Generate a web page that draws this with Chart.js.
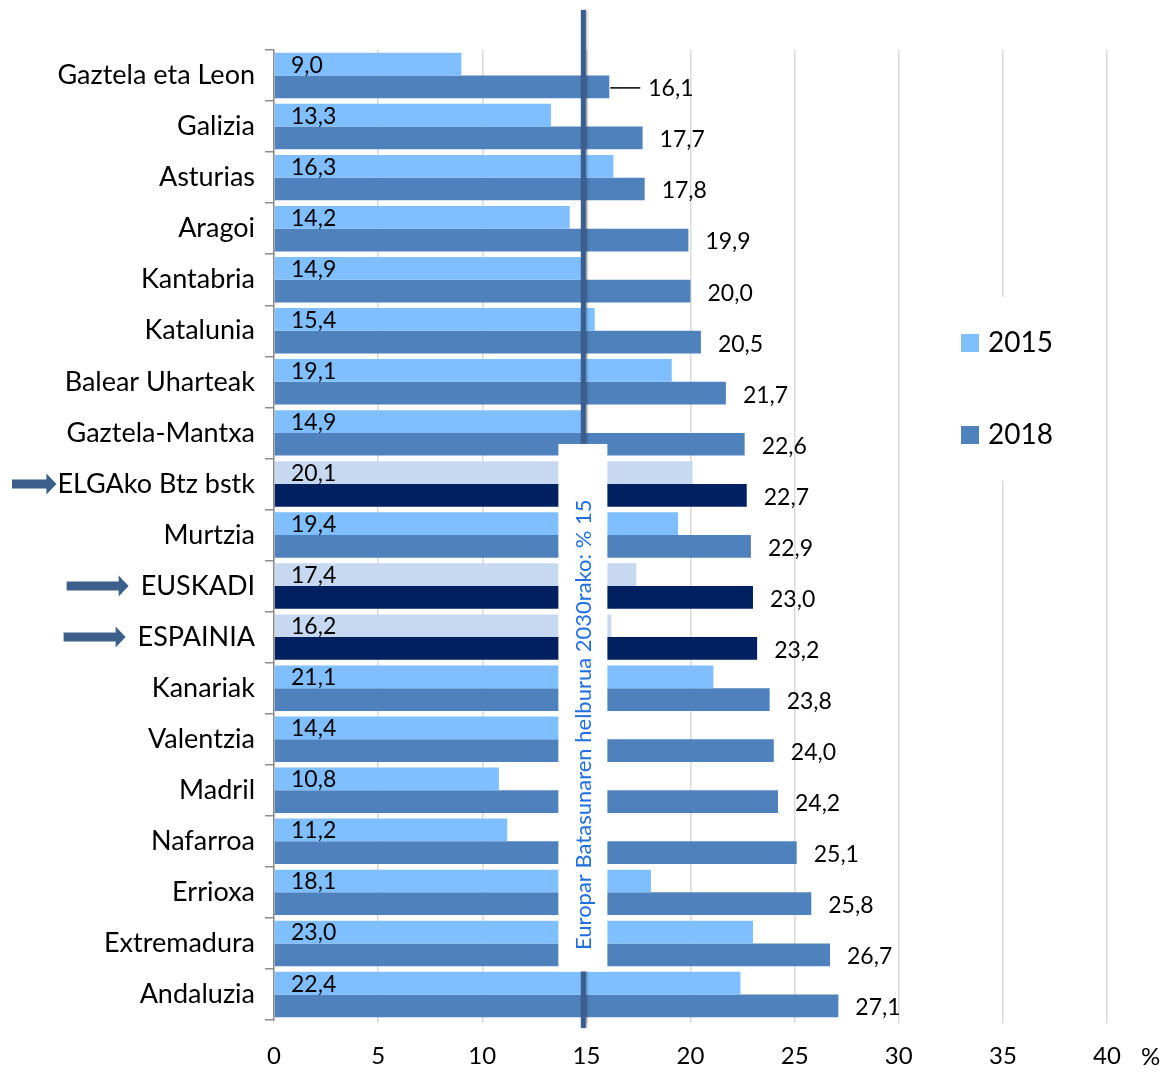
<!DOCTYPE html>
<html>
<head>
<meta charset="utf-8">
<script src="https://cdn.jsdelivr.net/npm/chart.js@4/dist/chart.umd.min.js"></script>
<style>
  html, body { margin: 0; padding: 0; background: #fff; }
  #wrap { width: 1167px; height: 1072px; }
</style>
</head>
<body>
<div id="wrap"><canvas id="chart" width="1167" height="1072"></canvas></div>
<script>
const regions = [
  "Gaztela eta Leon", "Galizia", "Asturias", "Aragoi", "Kantabria", "Katalunia",
  "Balear Uharteak", "Gaztela-Mantxa", "ELGAko Btz bstk", "Murtzia", "EUSKADI",
  "ESPAINIA", "Kanariak", "Valentzia", "Madril", "Nafarroa", "Errioxa",
  "Extremadura", "Andaluzia"
];
const values2015 = [9.0, 13.3, 16.3, 14.2, 14.9, 15.4, 19.1, 14.9, 20.1, 19.4, 17.4, 16.2, 21.1, 14.4, 10.8, 11.2, 18.1, 23.0, 22.4];
const values2018 = [16.1, 17.7, 17.8, 19.9, 20.0, 20.5, 21.7, 22.6, 22.7, 22.9, 23.0, 23.2, 23.8, 24.0, 24.2, 25.1, 25.8, 26.7, 27.1];
const seriesLabels = ["2015", "2018"];
const highlighted = ["ELGAko Btz bstk", "EUSKADI", "ESPAINIA"];
const xMin = 0;
const xMax = 40;
const xStep = 5;
const targetValue = 15;
const targetLabel = "Europar Batasunaren helburua 2030rako: % 15";

const FONT = "Lato, 'Open Sans', sans-serif";
const color2015 = "#7fbfff";
const color2018 = "#4f81bd";
const color2015Hi = "#c6d9f1";
const color2018Hi = "#002060";
const arrowColor = "#3c5f8c";

const isHi = (name) => highlighted.includes(name);

// value labels: 2015 at the bar start, 2018 after the bar end
const valueLabels = {
  id: "valueLabels",
  afterDatasetsDraw(chart) {
    const ctx = chart.ctx;
    const area = chart.chartArea;
    ctx.save();
    ctx.font = "23px " + FONT;
    ctx.fillStyle = "#000";
    ctx.textBaseline = "middle";
    ctx.textAlign = "left";
    chart.data.datasets.forEach((ds, di) => {
      const meta = chart.getDatasetMeta(di);
      meta.data.forEach((bar, i) => {
        const txt = ds.data[i].toFixed(1).replace(".", ",");
        if (di === 0) {
          ctx.fillText(txt, area.left + 17, bar.y + 1);
        } else if (i === 0) {
          // first label was moved out, with a leader line
          ctx.strokeStyle = "#000";
          ctx.lineWidth = 1.5;
          ctx.beginPath();
          ctx.moveTo(bar.x + 1, bar.y + 1);
          ctx.lineTo(bar.x + 31, bar.y + 1);
          ctx.stroke();
          ctx.fillText(txt, bar.x + 39, bar.y + 2);
        } else {
          ctx.fillText(txt, bar.x + 17, bar.y + 2);
        }
      });
    });
    ctx.restore();
  }
};

// target line with its rotated caption
const targetLine = {
  id: "targetLine",
  afterDatasetsDraw(chart) {
    const ctx = chart.ctx;
    const x = chart.scales.x.getPixelForValue(targetValue) - 3;
    const yScale = chart.scales.y;
    ctx.save();
    ctx.shadowColor = "rgba(0,0,0,0.35)";
    ctx.shadowBlur = 3;
    ctx.shadowOffsetX = 1;
    ctx.strokeStyle = "#3a5f8f";
    ctx.lineWidth = 5;
    ctx.beginPath();
    ctx.moveTo(x, 10);
    ctx.lineTo(x, chart.chartArea.bottom + 8);
    ctx.stroke();
    ctx.restore();

    const top = yScale.getPixelForValue(8) - 40;
    const bottom = yScale.getPixelForValue(18) - 23;
    ctx.save();
    ctx.fillStyle = "#fff";
    ctx.fillRect(x - 25, top, 49, bottom - top);
    ctx.translate(x + 1, (top + bottom) / 2 + 17);
    ctx.rotate(-Math.PI / 2);
    ctx.font = "22px " + FONT;
    ctx.fillStyle = "#1f6fe0";
    ctx.textAlign = "center";
    ctx.textBaseline = "middle";
    ctx.fillText(targetLabel, 0, 0);
    ctx.restore();
  }
};

// arrows, legend and the % unit
const extras = {
  id: "extras",
  afterDraw(chart) {
    const ctx = chart.ctx;
    const yScale = chart.scales.y;
    const xScale = chart.scales.x;
    ctx.save();
    ctx.font = "27px " + FONT;
    const labelRight = yScale.right - 19;
    regions.forEach((name, i) => {
      if (!isHi(name)) return;
      const w = ctx.measureText(name).width;
      const gap = name === "ELGAko Btz bstk" ? 1 : 12;
      const end = labelRight - w - gap;
      const start = Math.max(12, end - 62);
      const y = yScale.getPixelForValue(i);
      ctx.fillStyle = arrowColor;
      ctx.beginPath();
      ctx.moveTo(start, y - 4.5);
      ctx.lineTo(end - 10, y - 4.5);
      ctx.lineTo(end - 10, y - 10.5);
      ctx.lineTo(end, y);
      ctx.lineTo(end - 10, y + 10.5);
      ctx.lineTo(end - 10, y + 4.5);
      ctx.lineTo(start, y + 4.5);
      ctx.closePath();
      ctx.fill();
    });

    // legend
    ctx.fillStyle = "#fff";
    ctx.fillRect(930, 297, 160, 184);
    const colors = [color2015, color2018];
    ctx.font = "28px " + FONT;
    ctx.textBaseline = "middle";
    ctx.textAlign = "left";
    chart.data.datasets.forEach((ds, di) => {
      const cy = 343 + di * 92;
      ctx.fillStyle = colors[di];
      ctx.fillRect(961, cy - 9, 18, 18);
      ctx.fillStyle = "#000";
      ctx.fillText(ds.label, 988, cy);
    });

    // unit
    ctx.font = "24px " + FONT;
    ctx.fillText("%", xScale.right + 34, 1057);
    ctx.restore();
  }
};

new Chart(document.getElementById("chart"), {
  type: "bar",
  data: {
    labels: regions,
    datasets: [
      {
        label: seriesLabels[0],
        data: values2015,
        backgroundColor: regions.map((r) => (isHi(r) ? color2015Hi : color2015)),
        categoryPercentage: 0.89,
        barPercentage: 1.0
      },
      {
        label: seriesLabels[1],
        data: values2018,
        backgroundColor: regions.map((r) => (isHi(r) ? color2018Hi : color2018)),
        categoryPercentage: 0.89,
        barPercentage: 1.0
      }
    ]
  },
  options: {
    indexAxis: "y",
    responsive: false,
    animation: false,
    devicePixelRatio: 1,
    layout: { padding: { left: 0, top: 50, right: 60, bottom: 0 } },
    plugins: {
      legend: { display: false },
      tooltip: { enabled: false }
    },
    scales: {
      x: {
        min: xMin,
        max: xMax,
        ticks: {
          stepSize: xStep,
          color: "#000",
          font: { family: FONT, size: 24 },
          padding: 19
        },
        grid: { color: "#d9d9d9", lineWidth: 1.5, tickLength: 3 },
        border: { display: false },
        afterFit(scale) {
          scale.height = 52;
        }
      },
      y: {
        ticks: {
          color: "#000",
          font: { family: FONT, size: 27 },
          padding: 10,
          autoSkip: false
        },
        grid: {
          offset: true,
          drawOnChartArea: false,
          tickLength: 9,
          color: "#8c8c8c",
          lineWidth: 1.5
        },
        border: { color: "#8c8c8c", width: 1.5 },
        afterFit(scale) {
          scale.width = 274;
        }
      }
    }
  },
  plugins: [targetLine, valueLabels, extras]
});
</script>
</body>
</html>
